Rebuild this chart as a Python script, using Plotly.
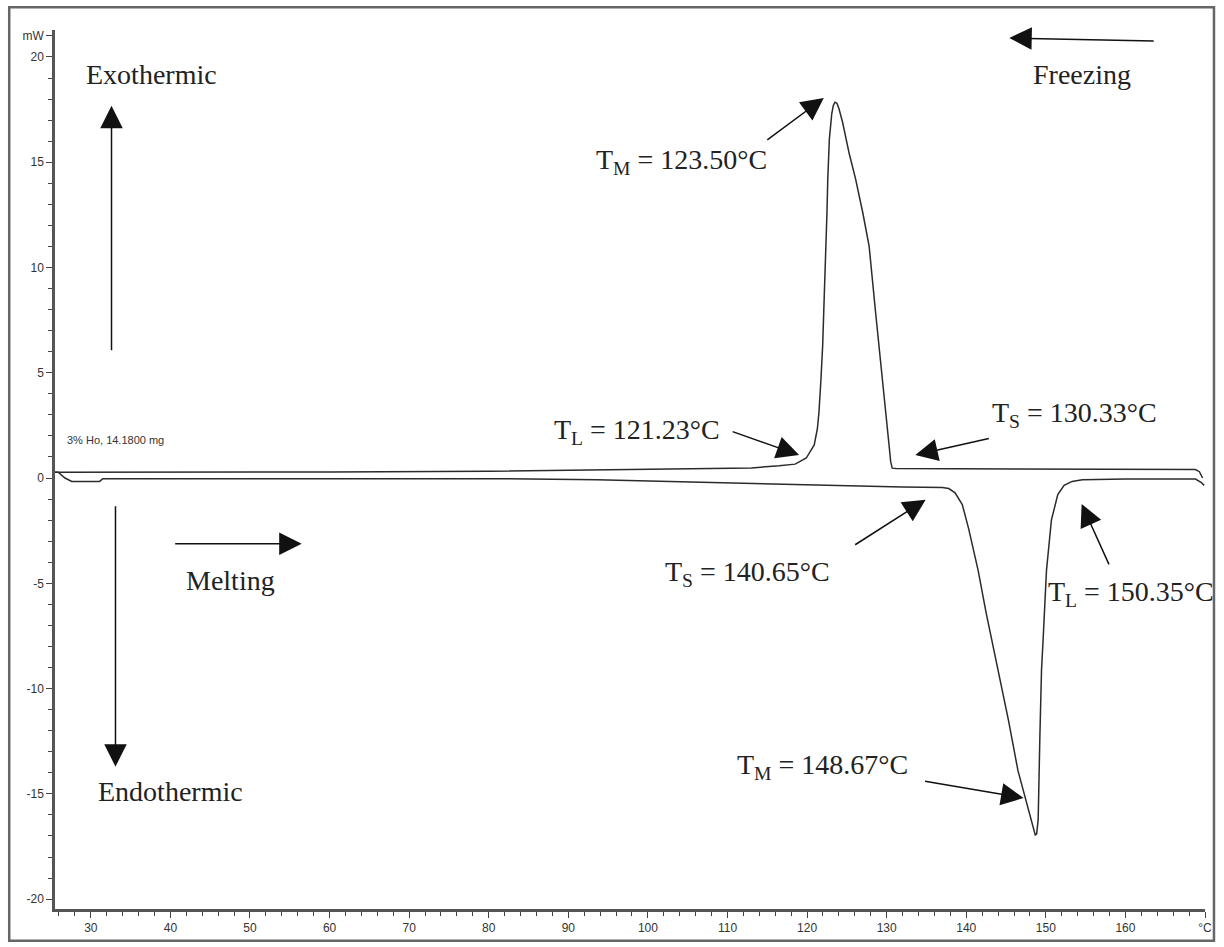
import plotly.graph_objects as go

# ---------------- data ----------------
# Cooling (freezing) curve: temperature (°C) and heat flow (mW)
freeze_T = [25.5, 40, 60, 80, 95, 106, 113, 116.5, 118.5, 119.9, 120.9, 121.3, 121.5,
            121.75, 121.96, 122.16, 122.4, 122.5, 122.6, 122.8, 123.1, 123.3, 123.5, 123.75,
            124.0, 124.46, 125.3, 126.1, 127.0, 127.8, 128.6, 129.5, 130.1, 130.3, 130.5,
            130.7, 131.2, 140, 150, 160, 168.8, 169.3, 169.7]
freeze_mW = [0.28, 0.28, 0.29, 0.32, 0.38, 0.42, 0.48, 0.58, 0.66, 0.95, 1.57, 2.36, 3.15,
             4.73, 6.3, 8.67, 11.0, 12.6, 14.2, 16.1, 17.3, 17.7, 17.85, 17.8,
             17.55, 16.9, 15.4, 14.2, 12.6, 11.0, 7.9, 4.7, 2.36, 1.57, 0.79,
             0.47, 0.45, 0.43, 0.42, 0.41, 0.40, 0.3, 0.0]

# Heating (melting) curve
melt_T = [25.5, 25.9, 26.75, 27.6, 31.1, 31.5, 50, 80, 93.6, 100, 107.6, 117.6, 125, 132,
          137.0, 137.8, 138.6, 139.5, 140.3, 141.5, 142.5, 143.6, 144.5, 145.3, 146.5,
          147.8, 148.3, 148.67, 148.85, 149.04, 149.25, 149.46, 149.67, 150.08, 150.7,
          151.5, 152.3, 153.3, 154.6, 160, 168.8, 169.5, 169.9]
melt_mW = [0.28, 0.28, 0.0, -0.16, -0.16, -0.03, -0.03, -0.03, -0.08, -0.14, -0.2, -0.3,
           -0.38, -0.43, -0.45, -0.5, -0.7, -1.26, -2.4, -4.4, -6.4, -8.35, -10.0, -11.5,
           -13.9, -15.7, -16.4, -16.95, -16.9, -16.2, -12.3, -9.1, -7.6, -4.4, -2.0,
           -0.79, -0.35, -0.16, -0.08, -0.05, -0.05, -0.2, -0.35]

x_tick_vals = [30, 40, 50, 60, 70, 80, 90, 100, 110, 120, 130, 140, 150, 160, 170]
x_tick_text = ["30", "40", "50", "60", "70", "80", "90", "100", "110", "120", "130",
               "140", "150", "160", "°C"]
y_tick_vals = [-20, -15, -10, -5, 0, 5, 10, 15, 20, 21]
y_tick_text = ["-20", "-15", "-10", "-5", "0", "5", "10", "15", "20", "mW"]

sample_label = "3% Ho, 14.1800 mg"

# text labels: (text, x, y)
side_labels = [
    ("Exothermic", 37.6, 19.15),
    ("Endothermic", 40.0, -14.9),
    ("Melting", 47.6, -4.87),
    ("Freezing", 154.6, 19.15),
    ("T<sub>M</sub> = 123.50°C", 104.25, 15.04),
    ("T<sub>L</sub> = 121.23°C", 98.6, 2.22),
    ("T<sub>S</sub> = 130.33°C", 153.6, 3.03),
    ("T<sub>S</sub> = 140.65°C", 112.5, -4.54),
    ("T<sub>L</sub> = 150.35°C", 160.75, -5.48),
    ("T<sub>M</sub> = 148.67°C", 121.9, -13.71),
]

# arrows: head (x, y) in data units, tail offset (ax, ay) in pixels
arrows = [
    (32.6, 17.68, 0, 246),
    (33.1, -13.71, 0, -262),
    (56.5, -3.12, -128, 0),
    (145.4, 20.9, 146, 3),
    (122.1, 18.05, -58, 43),
    (119.0, 1.09, -68, -24),
    (133.6, 1.09, 75, -17),
    (134.9, -1.03, -72, 46),
    (154.5, -1.23, 28, 62),
    (147.2, -15.2, -100, -17),
]

# ---------------- figure ----------------
line_col = "#2b2b2b"
fig = go.Figure()
fig.add_trace(go.Scatter(x=freeze_T, y=freeze_mW, mode="lines",
                         line=dict(color=line_col, width=1.5), hoverinfo="skip"))
fig.add_trace(go.Scatter(x=melt_T, y=melt_mW, mode="lines",
                         line=dict(color=line_col, width=1.5), hoverinfo="skip"))

annotations = []
for txt, x, y in side_labels:
    annotations.append(dict(x=x, y=y, xref="x", yref="y", text=txt, showarrow=False,
                            xanchor="center", yanchor="middle",
                            font=dict(family="Liberation Serif", size=28, color="#222")))
for x, y, ax, ay in arrows:
    annotations.append(dict(x=x, y=y, xref="x", yref="y", text="", showarrow=True,
                            ax=ax, ay=ay, arrowhead=2, arrowsize=3.0, arrowwidth=1.5,
                            arrowcolor="#111", standoff=0))
annotations.append(dict(x=26.75, y=1.8, xref="x", yref="y", text=sample_label,
                        showarrow=False, xanchor="left", yanchor="middle",
                        font=dict(family="Liberation Sans", size=11, color="#333")))

# outer frame around the whole chart
shapes = [dict(type="rect", xref="paper", yref="paper", x0=-0.0398, x1=1.0078,
               y0=-0.0362, y1=1.026, line=dict(color="#666", width=2.5))]

fig.update_layout(
    width=1224, height=947,
    margin=dict(l=55, r=13, t=30, b=34),
    paper_bgcolor="white", plot_bgcolor="white",
    showlegend=False,
    annotations=annotations,
    shapes=shapes,
)
fig.update_xaxes(range=[25.5, 170], tickmode="array", tickvals=x_tick_vals,
                 ticktext=x_tick_text, ticks="outside", ticklen=6, tickwidth=1.2,
                 tickcolor="#444", showline=True, linecolor="#555", linewidth=2.5,
                 showgrid=False, zeroline=False,
                 tickfont=dict(family="Liberation Sans", size=12, color="#333"),
                 minor=dict(tickmode="linear", tick0=0, dtick=2, ticks="outside",
                            ticklen=4, tickcolor="#444", tickwidth=1.2, showgrid=False))
fig.update_yaxes(range=[-20.47, 21.28], tickmode="array", tickvals=y_tick_vals,
                 ticktext=y_tick_text, ticks="outside", ticklen=6, tickwidth=1.2,
                 tickcolor="#444", showline=True, linecolor="#555", linewidth=2.5,
                 showgrid=False, zeroline=False,
                 tickfont=dict(family="Liberation Sans", size=12, color="#333"),
                 minor=dict(tickmode="linear", tick0=0, dtick=1, ticks="outside",
                            ticklen=4, tickcolor="#444", tickwidth=1.2, showgrid=False))

fig.write_html("out.html")
